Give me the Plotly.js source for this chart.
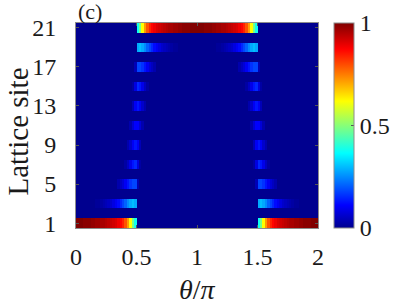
<!DOCTYPE html>
<html>
<head>
<meta charset="utf-8">
<script src="https://cdn.plot.ly/plotly-3.0.1.min.js"></script>
<style>
html,body{margin:0;padding:0;background:#fff;}
#chart{width:407px;height:305px;}
</style>
</head>
<body>
<div id="chart"></div>
<script>
// theta/pi sampling: cells centred at 0.01, 0.03, ..., 1.99 (step 0.02)
const theta0 = 0.01;
const dTheta = 0.02;
// Lattice sites 1..21
const sites = [1,2,3,4,5,6,7,8,9,10,11,12,13,14,15,16,17,18,19,20,21];
const xTickVals = [0, 0.5, 1, 1.5, 2];
const xTickText = ['0', '0.5', '1', '1.5', '2'];
const yTickVals = [1, 5, 9, 13, 17, 21];
const cbTickVals = [0, 0.5, 1];
const cbTickText = ['0', '0.5', '1'];
const xTitle = '<i>θ</i>/<i>π</i>';
const yTitle = 'Lattice site';
const panelLabel = '(c)';

// Values read for theta/pi = 0.01 ... 0.99 (50 cells) on odd sites.
// The reference is mirror-symmetric about theta/pi = 1, so the right half reuses them reversed.
const site1  = [1.00,1.00,1.00,0.99,0.99,0.99,0.98,0.98,0.97,0.97, 0.96,0.96,0.95,0.94,0.93,0.92,0.91,0.89,0.87,0.84, 0.79,0.72,0.62,0.48,0.38,0,0,0,0,0, 0,0,0,0,0,0,0,0,0,0, 0,0,0,0,0,0,0,0,0,0];
const site3  = [0,0,0,0,0,0,0,0,0.01,0.01, 0.02,0.03,0.04,0.05,0.06,0.08,0.10,0.12,0.15,0.18, 0.21,0.25,0.28,0.30,0.28,0,0,0,0,0, 0,0,0,0,0,0,0,0,0,0, 0,0,0,0,0,0,0,0,0,0];
const site5  = [0,0,0,0,0,0,0,0,0,0, 0,0,0,0,0,0,0,0.03,0.05,0.07, 0.10,0.13,0.16,0.18,0.18,0.04,0,0,0,0, 0,0,0,0,0,0,0,0,0,0, 0,0,0,0,0,0,0,0,0,0];
const site7  = [0,0,0,0,0,0,0,0,0,0, 0,0,0,0,0,0,0,0,0,0, 0.02,0.05,0.09,0.13,0.15,0.08,0.02,0,0,0, 0,0,0,0,0,0,0,0,0,0, 0,0,0,0,0,0,0,0,0,0];
const site9  = [0,0,0,0,0,0,0,0,0,0, 0,0,0,0,0,0,0,0,0,0, 0,0.03,0.06,0.10,0.13,0.10,0.04,0,0,0, 0,0,0,0,0,0,0,0,0,0, 0,0,0,0,0,0,0,0,0,0];
const site11 = [0,0,0,0,0,0,0,0,0,0, 0,0,0,0,0,0,0,0,0,0, 0,0,0.03,0.07,0.11,0.11,0.07,0.03,0,0, 0,0,0,0,0,0,0,0,0,0, 0,0,0,0,0,0,0,0,0,0];
const site13 = [0,0,0,0,0,0,0,0,0,0, 0,0,0,0,0,0,0,0,0,0, 0,0,0,0.04,0.10,0.13,0.10,0.06,0.03,0, 0,0,0,0,0,0,0,0,0,0, 0,0,0,0,0,0,0,0,0,0];
const site15 = [0,0,0,0,0,0,0,0,0,0, 0,0,0,0,0,0,0,0,0,0, 0,0,0,0.02,0.08,0.15,0.13,0.09,0.05,0.02, 0,0,0,0,0,0,0,0,0,0, 0,0,0,0,0,0,0,0,0,0];
const site17 = [0,0,0,0,0,0,0,0,0,0, 0,0,0,0,0,0,0,0,0,0, 0,0,0,0,0.04,0.18,0.18,0.16,0.13,0.10, 0.07,0.05,0.03,0,0,0,0,0,0,0, 0,0,0,0,0,0,0,0,0,0];
const site19 = [0,0,0,0,0,0,0,0,0,0, 0,0,0,0,0,0,0,0,0,0, 0,0,0,0,0,0.28,0.30,0.28,0.25,0.21, 0.18,0.15,0.12,0.10,0.08,0.06,0.05,0.04,0.03,0.02, 0.01,0.01,0,0,0,0,0,0,0,0];
const site21 = [0,0,0,0,0,0,0,0,0,0, 0,0,0,0,0,0,0,0,0,0, 0,0,0,0,0,0.38,0.48,0.62,0.72,0.79, 0.84,0.87,0.89,0.91,0.92,0.93,0.94,0.95,0.96,0.96, 0.97,0.97,0.98,0.98,0.99,0.99,0.99,1.00,1.00,1.00];

const oddSites = {1:site1,3:site3,5:site5,7:site7,9:site9,11:site11,13:site13,15:site15,17:site17,19:site19,21:site21};

const z = sites.map(function(s){
  const half = oddSites[s];
  if (half) return half.concat(half.slice().reverse());
  return new Array(100).fill(0);
});

const jet = [
  [0, 'rgb(0,0,143)'],
  [0.111, 'rgb(0,0,255)'],
  [0.365, 'rgb(0,255,255)'],
  [0.619, 'rgb(255,255,0)'],
  [0.873, 'rgb(255,0,0)'],
  [1, 'rgb(128,0,0)']
];

const serif = '"Liberation Serif", "Times New Roman", "DejaVu Serif", serif';
const txt = '#1a1a1a';

const trace = {
  type: 'heatmap',
  z: z,
  x0: theta0, dx: dTheta,
  y0: sites[0], dy: 1,
  zmin: 0, zmax: 1,
  colorscale: jet,
  zsmooth: false,
  hoverinfo: 'skip',
  colorbar: {
    x: 1.067, xanchor: 'left', xref: 'paper',
    y: 0.5, yanchor: 'middle',
    len: 1, lenmode: 'fraction',
    thickness: 20, thicknessmode: 'pixels',
    xpad: 0, ypad: 0,
    outlinewidth: 1, outlinecolor: '#8c8c8c',
    tickvals: cbTickVals, ticktext: cbTickText,
    ticks: 'inside', ticklen: 3, tickcolor: '#555',
    tickfont: {family: serif, size: 24, color: txt}
  }
};

const layout = {
  width: 407, height: 305,
  margin: {l: 76, r: 89, t: 23, b: 77},
  paper_bgcolor: '#ffffff', plot_bgcolor: '#ffffff',
  font: {family: serif, size: 24, color: txt},
  xaxis: {
    range: [0, 2], tickvals: xTickVals, ticktext: xTickText,
    ticks: 'inside', ticklen: 3, tickcolor: '#555',
    showline: true, linecolor: '#8c8c8c', linewidth: 1, mirror: 'ticks',
    showgrid: false, zeroline: false,
    tickfont: {family: serif, size: 24, color: txt},
    ticklabelstandoff: 7
  },
  yaxis: {
    range: [0.5, 21.5], tickvals: yTickVals,
    ticks: 'inside', ticklen: 3, tickcolor: '#555',
    showline: true, linecolor: '#8c8c8c', linewidth: 1, mirror: 'ticks',
    showgrid: false, zeroline: false,
    tickfont: {family: serif, size: 24, color: txt},
    ticklabelstandoff: 14
  },
  annotations: [
    {
      text: panelLabel, xref: 'paper', yref: 'paper', x: 0, y: 1,
      xanchor: 'left', yanchor: 'bottom', showarrow: false, yshift: -3,
      font: {family: serif, size: 22, color: txt}
    },
    {
      text: xTitle, xref: 'paper', yref: 'paper', x: 0.5, y: 0,
      xanchor: 'center', yanchor: 'top', showarrow: false, yshift: -44,
      font: {family: serif, size: 28, color: txt}
    },
    {
      text: yTitle, xref: 'paper', yref: 'paper', x: 0, y: 0.5,
      xanchor: 'right', yanchor: 'middle', showarrow: false, textangle: -90,
      xshift: -41, yshift: -6,
      font: {family: serif, size: 29, color: txt}
    }
  ]
};

Plotly.newPlot('chart', [trace], layout, {displayModeBar: false}).then(function(){
  document.body.setAttribute('data-rendered', '1');
});
</script>
</body>
</html>
